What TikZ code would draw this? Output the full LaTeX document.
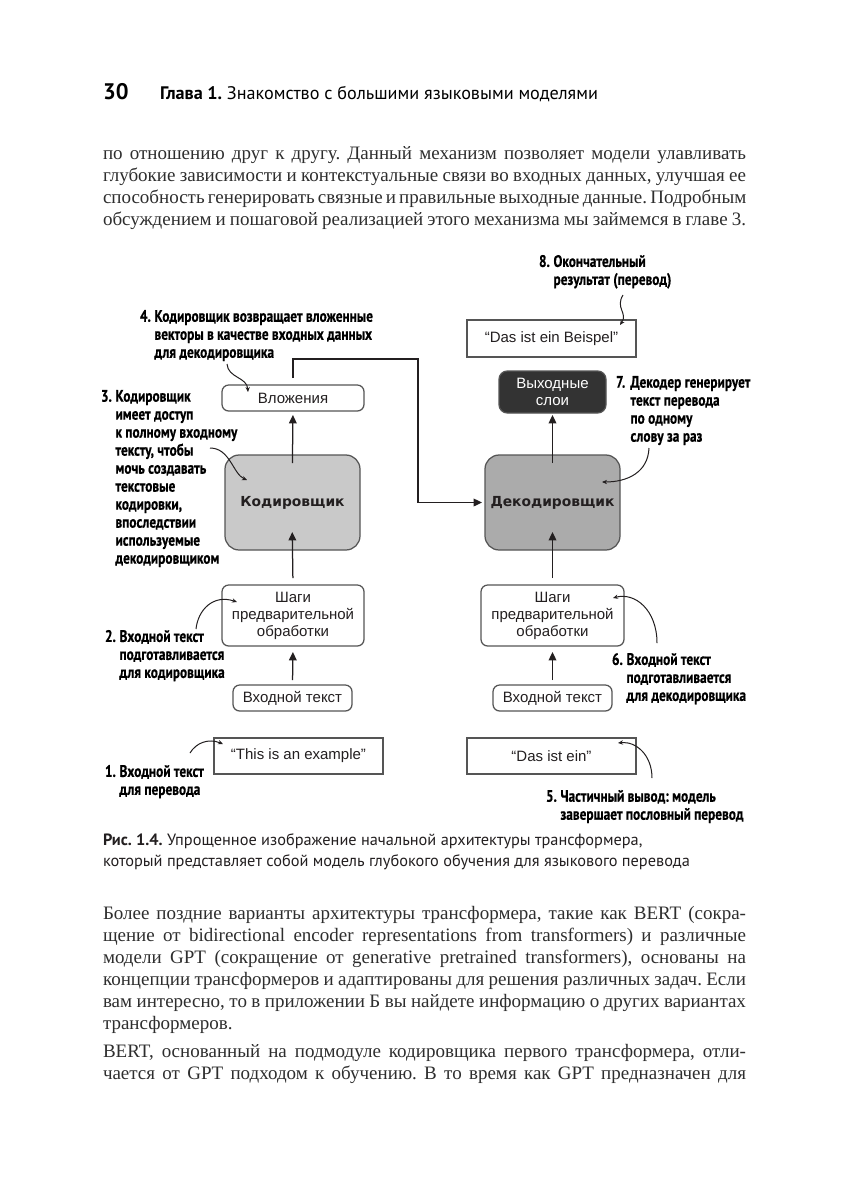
\documentclass[tikz,border=0pt]{standalone}
\usepackage{fontspec}
\setmainfont{Liberation Serif}
\newfontfamily\hdrfont{PT Sans}
\newfontfamily\condfont[FakeStretch=0.8, BoldFeatures={FakeBold=0.5}]{PT Sans}
\newfontfamily\boxfont{Liberation Sans}
\newfontfamily\bigfont{DejaVu Sans}
\usetikzlibrary{arrows.meta}
\definecolor{ink}{HTML}{231F20}
\definecolor{bodyink}{HTML}{2E2E2E}
\definecolor{boxline}{HTML}{555555}
\definecolor{encfill}{HTML}{C9C9C9}
\definecolor{decfill}{HTML}{ABABAB}
\definecolor{outfill}{HTML}{333333}
\newcommand\callnum[1]{\makebox[8.7pt][l]{#1}}
\newcommand\calind{\hspace*{8.7pt}}
\newcommand\jline[1]{\hbox to 385.8pt{#1}}
\frenchspacing
\begin{document}
\begin{tikzpicture}[x=0.6pt,y=-0.6pt,
  every node/.style={inner sep=0pt, outer sep=0pt},
  rbox/.style={draw=boxline, line width=0.75pt, rounded corners=4pt, fill=white, text=ink,
    font=\boxfont\fontsize{9}{10.2}\selectfont, align=center},
  sbox/.style={draw=boxline, line width=0.75pt, fill=white, text=ink,
    font=\boxfont\fontsize{9}{10.2}\selectfont},
  bigbox/.style={draw=boxline, line width=0.75pt, rounded corners=8.5pt, text=ink,
    font=\bigfont\bfseries\fontsize{8.3}{10}\selectfont, minimum width=81pt, minimum height=57pt},
  arr/.style={draw=ink, line width=0.75pt, -{Triangle[length=5pt,width=4.6pt]}},
  callarr/.style={draw=ink, line width=0.6pt, -{Stealth[length=3pt,width=2.6pt]}},
  callt/.style={font=\condfont\bfseries\fontsize{10}{10.8}\selectfont, align=left, anchor=north west, text=black},
  bodyt/.style={font=\fontsize{11.4}{13.2}\selectfont, anchor=north west, text=bodyink},
]
\fill[white] (0,0) rectangle (849,1200);
\useasboundingbox (0,0) rectangle (849,1200);

% header
\node[anchor=base west, font=\hdrfont\bfseries\fontsize{13.5}{15}\selectfont] (pgno) at (103,99) {30};
\node[anchor=base west, font=\hdrfont\fontsize{10.9}{13}\selectfont] (runhead) at (160,99) {\textbf{Глава 1.} Знакомство с большими языковыми моделями};

% paragraph 1
\node[bodyt] (par1) at (103,146) {\vbox{\baselineskip=13.2pt
\jline{по отношению друг к другу. Данный механизм позволяет модели улавливать}
\jline{глубокие зависимости и контекстуальные связи во входных данных, улучшая ее}
\jline{способность генерировать связные и правильные выходные данные. Подробным}
\jline{обсуждением и пошаговой реализацией этого механизма мы займемся в главе 3.}}};

% boxes
\node[sbox, minimum width=101.4pt, minimum height=22.2pt] (res) at (551.5,338.5) {“Das ist ein Beispel”};
\node[rbox, fill=outfill, text=white, minimum width=64.2pt, minimum height=25.2pt, rounded corners=5pt] (out) at (552.5,392) {Выходные\\слои};
\node[rbox, minimum width=85.2pt, minimum height=15.6pt] (emb) at (293,398) {Вложения};
\node[bigbox, fill=encfill] (enc) at (292.5,502.5) {Кодировщик};
\node[bigbox, fill=decfill] (dec) at (552.5,502.5) {Декодировщик};
\node[rbox, minimum width=85.2pt, minimum height=36.6pt] (pre1) at (293,615.5) {Шаги\\предварительной\\обработки};
\node[rbox, minimum width=85.8pt, minimum height=36.6pt] (pre2) at (552.5,615.5) {Шаги\\предварительной\\обработки};
\node[rbox, minimum width=71.4pt, minimum height=15.6pt] (in1) at (292.5,698) {Входной текст};
\node[rbox, minimum width=71.4pt, minimum height=15.6pt] (in2) at (552.5,698) {Входной текст};
\node[sbox, minimum width=101.4pt, minimum height=21.6pt] (ex1) at (298.5,756) {“This is an example”};
\node[sbox, minimum width=101.4pt, minimum height=21.6pt] (ex2) at (551.5,756) {“Das ist ein”};

% main arrows
\draw[arr, shorten <=-4.8pt, shorten >=2.4pt] (enc.north) -- (emb.south);
\draw[arr, shorten <=-4.8pt, shorten >=1.2pt] (dec.north) -- (out.south);
\draw[arr, shorten <=4.2pt, shorten >=-10.8pt] (pre1.north) -- (enc.south);
\draw[arr, shorten <=4.2pt, shorten >=-10.8pt] (pre2.north) -- (dec.south);
\draw[arr, shorten <=3pt, shorten >=3.6pt] (in1.north) -- (pre1.south);
\draw[arr, shorten <=3pt, shorten >=3.6pt] (in2.north) -- (pre2.south);
\coordinate (bend) at (418,359);
\draw[arr, shorten <=4.2pt, shorten >=1.8pt] (emb.north) |- (bend) |- (dec.west);

% callouts
\node[callt] (t1) at (105,765) {\callnum{1.}Входной текст\\\calind для перевода};
\node[callt] (t2) at (105,630) {\callnum{2.}Входной текст\\\calind подготавливается\\\calind для кодировщика};
\node[callt] (t3) at (101,390) {\callnum{3.}Кодировщик\\\calind имеет доступ\\\calind к полному входному\\\calind тексту, чтобы\\\calind мочь создавать\\\calind текстовые\\\calind кодировки,\\\calind впоследствии\\\calind используемые\\\calind декодировщиком};
\node[callt] (t4) at (140,310) {\callnum{4.}Кодировщик возвращает вложенные\\\calind векторы в качестве входных данных\\\calind для декодировщика};
\node[callt] (t5) at (546,790) {\callnum{5.}Частичный вывод: модель\\\calind завершает пословный перевод};
\node[callt] (t6) at (612,653) {\callnum{6.}Входной текст\\\calind подготавливается\\\calind для декодировщика};
\node[callt] (t7) at (616,376) {\callnum{7.}Декодер генерирует\\\calind текст перевода\\\calind по одному\\\calind слову за раз};
\node[callt] (t8) at (539,255) {\callnum{8.}Окончательный\\\calind результат (перевод)};

\coordinate (c1s) at (190,753); \coordinate (c1e) at (223,744);
\draw[callarr] (c1s) .. controls (196,743) and (208,738) .. (c1e);
\coordinate (c2s) at (196,629); \coordinate (c2e) at (237,602);
\draw[callarr] (c2s) .. controls (198,610) and (213,594) .. (c2e);
\coordinate (c3s) at (210,448); \coordinate (c3e) at (247,480);
\draw[callarr] (c3s) .. controls (230,448) and (233,474) .. (c3e);
\coordinate (c4s) at (227,364); \coordinate (c4e) at (248,392);
\draw[callarr] (c4s) .. controls (228,378) and (247,377) .. (c4e);
\coordinate (c5s) at (652,778); \coordinate (c5e) at (618,743);
\draw[callarr] (c5s) .. controls (652,755) and (636,741) .. (c5e);
\coordinate (c6s) at (657,643); \coordinate (c6e) at (613,598);
\draw[callarr] (c6s) .. controls (657,610) and (635,592) .. (c6e);
\coordinate (c7s) at (649,448); \coordinate (c7e) at (602,482);
\draw[callarr] (c7s) .. controls (648,472) and (628,482) .. (c7e);
\coordinate (c8s) at (623,295); \coordinate (c8e) at (620,325);
\draw[callarr] (c8s) .. controls (615,308) and (628,313) .. (c8e);

% caption
\node[anchor=north west, align=left, font=\hdrfont\fontsize{9.8}{12.6}\selectfont, text=ink] (cap) at (103,834)
  {\textbf{Рис. 1.4.} Упрощенное изображение начальной архитектуры трансформера,\\который представляет собой модель глубокого обучения для языкового перевода};

% paragraph 2
\node[bodyt] (par2) at (103,906) {\vbox{\baselineskip=13.2pt
\jline{Более поздние варианты архитектуры трансформера, такие как BERT (сокра-}
\jline{щение от bidirectional encoder representations from transformers) и различные}
\jline{модели GPT (сокращение от generative pretrained transformers), основаны на}
\jline{концепции трансформеров и адаптированы для решения различных задач. Если}
\jline{вам интересно, то в приложении Б вы найдете информацию о других вариантах}
\hbox{трансформеров.}}};

% paragraph 3
\node[bodyt] (par3) at (103,1044) {\vbox{\baselineskip=13.2pt
\jline{BERT, основанный на подмодуле кодировщика первого трансформера, отли-}
\jline{чается от GPT подходом к обучению. В то время как GPT предназначен для}}};
\end{tikzpicture}
\end{document}
